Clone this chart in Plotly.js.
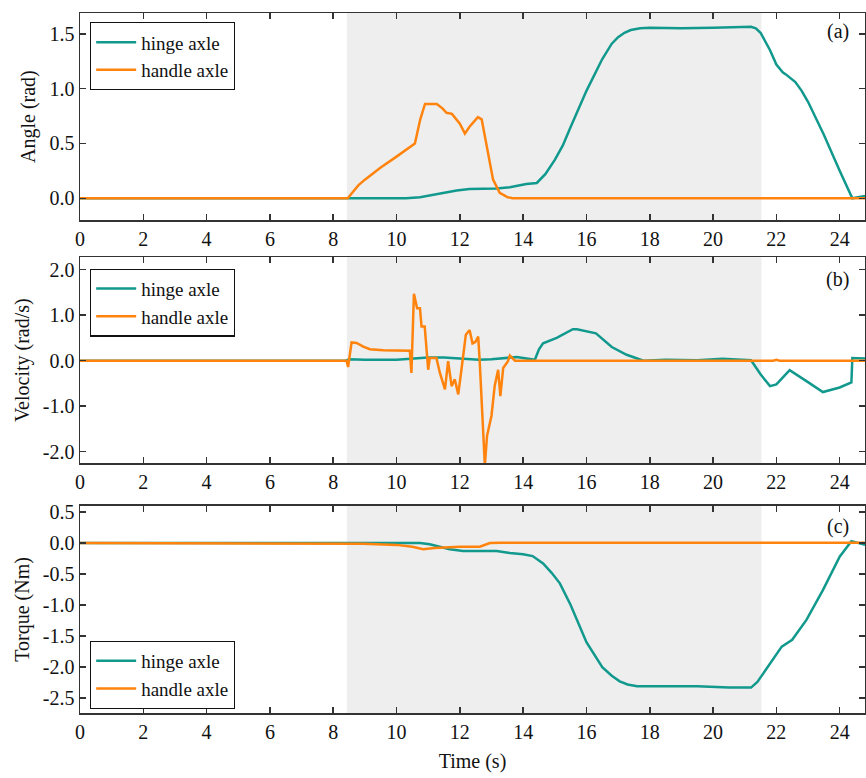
<!DOCTYPE html>
<html><head><meta charset="utf-8">
<script src="https://cdn.plot.ly/plotly-3.0.1.min.js"></script>
<style>body{margin:0;padding:0;background:#fff}#chart{width:866px;height:778px}</style>
</head><body><div id="chart"></div>
<script>
// ---- data ----
const seriesNames = ["hinge axle", "handle axle"];
const activeStart = 8.43, activeEnd = 21.53;

const angleHingeT = [0, 10.3, 10.74, 11.3, 11.9, 12.3, 13.16, 13.58, 14.1, 14.43, 14.7, 15.0, 15.25, 15.5, 15.8, 16.0, 16.5, 16.8, 17.0, 17.2, 17.4, 17.7, 18.0, 19.0, 20.0, 21.0, 21.2, 21.35, 21.5, 21.8, 22.0, 22.2, 22.3, 22.6, 22.8, 23.0, 23.5, 24.0, 24.4, 24.8];
const angleHingeV = [0, 0, 0.01, 0.04, 0.07, 0.085, 0.09, 0.10, 0.13, 0.14, 0.22, 0.35, 0.48, 0.65, 0.84, 0.98, 1.27, 1.41, 1.47, 1.51, 1.535, 1.55, 1.555, 1.55, 1.555, 1.565, 1.565, 1.55, 1.51, 1.35, 1.22, 1.15, 1.13, 1.06, 0.98, 0.88, 0.58, 0.25, 0.0, 0.02];
const angleHandleT = [0, 8.46, 8.6, 8.8, 9.0, 9.5, 10.0, 10.5, 10.58, 10.75, 10.9, 11.27, 11.45, 11.58, 11.75, 12.0, 12.16, 12.3, 12.57, 12.69, 12.85, 13.05, 13.26, 13.5, 13.67, 24.8];
const angleHandleV = [0, 0, 0.05, 0.12, 0.17, 0.28, 0.38, 0.48, 0.50, 0.72, 0.86, 0.86, 0.82, 0.78, 0.77, 0.68, 0.59, 0.65, 0.74, 0.72, 0.47, 0.17, 0.05, 0.01, 0, 0];

const velHingeT = [0, 8.4, 8.5, 9, 10, 10.5, 11, 11.5, 12, 12.3, 12.6, 13, 13.5, 13.8, 14.37, 14.5, 14.63, 15.06, 15.57, 15.7, 16.3, 16.8, 17.27, 17.8, 18.5, 19.5, 20.3, 21.0, 21.2, 21.5, 21.8, 22.0, 22.42, 22.95, 23.47, 24.0, 24.37, 24.4, 24.8];
const velHingeV = [0, 0, 0.03, 0.02, 0.02, 0.05, 0.07, 0.07, 0.05, 0.03, 0.02, 0.03, 0.07, 0.08, 0.02, 0.25, 0.38, 0.5, 0.69, 0.69, 0.6, 0.3, 0.13, 0, 0.02, 0.01, 0.04, 0.02, 0.01, -0.3, -0.56, -0.52, -0.21, -0.45, -0.69, -0.59, -0.48, 0.06, 0.05];
const velHandleT = [0, 8.42, 8.47, 8.58, 8.74, 8.95, 9.16, 9.58, 10.42, 10.47, 10.55, 10.65, 10.74, 10.79, 10.89, 11.0, 11.05, 11.26, 11.37, 11.53, 11.63, 11.74, 11.84, 11.95, 12.05, 12.19, 12.31, 12.4, 12.49, 12.58, 12.63, 12.79, 12.86, 13.0, 13.1, 13.21, 13.28, 13.37, 13.52, 13.58, 13.74, 21.9, 22.0, 22.1, 24.8];
const velHandleV = [0, 0, -0.14, 0.40, 0.39, 0.31, 0.25, 0.23, 0.22, -0.27, 1.47, 1.15, 1.15, 0.75, 0.75, -0.2, 0.06, 0.06, -0.27, -0.63, -0.01, -0.56, -0.41, -0.74, -0.2, 0.57, 0.67, 0.38, 0.41, 0.53, -0.05, -2.3, -1.65, -1.21, -0.56, -0.2, -0.78, -0.16, -0.01, 0.11, 0, 0, 0.02, 0, 0];

const torqueHingeT = [0, 10.5, 10.74, 11.05, 11.4, 11.68, 12.1, 12.5, 13.16, 13.58, 14.0, 14.3, 14.63, 14.9, 15.16, 15.5, 16.0, 16.5, 16.8, 17.05, 17.3, 17.6, 18.5, 19.0, 19.5, 20.5, 21.2, 21.4, 21.8, 22.17, 22.5, 22.95, 23.47, 24.0, 24.37, 24.8];
const torqueHingeV = [0, 0, 0, -0.02, -0.06, -0.1, -0.13, -0.13, -0.13, -0.16, -0.18, -0.21, -0.33, -0.48, -0.65, -1.0, -1.6, -2.0, -2.14, -2.23, -2.28, -2.31, -2.31, -2.30, -2.31, -2.33, -2.33, -2.24, -1.94, -1.67, -1.56, -1.24, -0.76, -0.22, 0.03, -0.03];
const torqueHandleT = [0, 8.43, 8.95, 10.0, 10.5, 10.84, 11.2, 11.68, 12.0, 12.63, 12.8, 12.95, 13.3, 24.8];
const torqueHandleV = [0, 0, -0.01, -0.03, -0.06, -0.1, -0.08, -0.07, -0.06, -0.06, -0.03, 0, 0.005, 0.005];

const xTicks = [0, 2, 4, 6, 8, 10, 12, 14, 16, 18, 20, 22, 24];
const angleTicks = [0, 0.5, 1.0, 1.5];
const angleTickText = ["0.0", "0.5", "1.0", "1.5"];
const velTicks = [-2, -1, 0, 1, 2];
const velTickText = ["-2.0", "-1.0", "0.0", "1.0", "2.0"];
const torqueTicks = [-2.5, -2, -1.5, -1, -0.5, 0, 0.5];
const torqueTickText = ["-2.5", "-2.0", "-1.5", "-1.0", "-0.5", "0.0", "0.5"];
const panelTitles = ["Angle (rad)", "Velocity (rad/s)", "Torque (Nm)"];
const panelLabels = ["(a)", "(b)", "(c)"];

// ---- styling ----
const TEAL = "#12998d", ORANGE = "#ff830c";
const FONT = "Liberation Serif";
const LW = 2.5;

function tr(x, y, name, color, xa, ya, leg) {
  return {x: x, y: y, name: name, type: "scatter", mode: "lines",
    line: {color: color, width: LW}, xaxis: xa, yaxis: ya, legend: leg, showlegend: true};
}
const data = [
  tr(angleHingeT, angleHingeV, seriesNames[0], TEAL, "x", "y", "legend"),
  tr(angleHandleT, angleHandleV, seriesNames[1], ORANGE, "x", "y", "legend"),
  tr(velHingeT, velHingeV, seriesNames[0], TEAL, "x2", "y2", "legend2"),
  tr(velHandleT, velHandleV, seriesNames[1], ORANGE, "x2", "y2", "legend2"),
  tr(torqueHingeT, torqueHingeV, seriesNames[0], TEAL, "x3", "y3", "legend3"),
  tr(torqueHandleT, torqueHandleV, seriesNames[1], ORANGE, "x3", "y3", "legend3")
];

const axBase = {showline: true, linecolor: "#333", linewidth: 1.5, mirror: "ticks",
  ticks: "inside", ticklen: 6, tickwidth: 1.5, tickcolor: "#333", showgrid: false, zeroline: false,
  tickfont: {family: FONT, size: 20, color: "#111"}};
function xAx(anchor, title) {
  const a = Object.assign({}, axBase, {range: [0, 24.8], tickvals: xTicks, anchor: anchor});
  if (title) a.title = {text: title, font: {family: FONT, size: 20, color: "#111"}, standoff: 12};
  return a;
}
function yAx(anchor, dom, range, tv, tt, title) {
  return Object.assign({}, axBase, {domain: dom, range: range, tickvals: tv, ticktext: tt, anchor: anchor,
    title: {text: title, font: {family: FONT, size: 20, color: "#111"}, standoff: 8}});
}
const legBase = {bgcolor: "rgba(255,255,255,1)", bordercolor: "#111", borderwidth: 1.2,
  font: {family: FONT, size: 19, color: "#111"}, xanchor: "left", x: 0.0127, tracegroupgap: 0,
  itemwidth: 40};

const shapes = [["x", "y"], ["x2", "y2"], ["x3", "y3"]].map(p => ({
  type: "rect", xref: p[0], yref: p[1] + " domain", x0: activeStart, x1: activeEnd, y0: 0, y1: 1,
  fillcolor: "#eeeeee", line: {width: 0}, layer: "below"}));

const labelY = [0.973, 0.619, 0.266];
const annotations = panelLabels.map((t, i) => ({text: t, xref: "paper", yref: "paper", x: 0.9656, y: labelY[i],
  xanchor: "center", yanchor: "middle", showarrow: false, font: {family: FONT, size: 20, color: "#111"}}));

const layout = {
  width: 866, height: 778, paper_bgcolor: "#fff", plot_bgcolor: "#fff",
  margin: {l: 80, r: 1, t: 13, b: 65},
  font: {family: FONT},
  xaxis: xAx("y"), xaxis2: xAx("y2"), xaxis3: xAx("y3", "Time (s)"),
  yaxis: yAx("x", [0.704, 1.0], [-0.2, 1.69], angleTicks, angleTickText, panelTitles[0]),
  yaxis2: yAx("x2", [0.357, 0.651], [-2.25, 2.27], velTicks, velTickText, panelTitles[1]),
  yaxis3: yAx("x3", [0, 0.296], [-2.74, 0.6], torqueTicks, torqueTickText, panelTitles[2]),
  legend: Object.assign({}, legBase, {y: 0.987, yanchor: "top"}),
  legend2: Object.assign({}, legBase, {y: 0.635, yanchor: "top"}),
  legend3: Object.assign({}, legBase, {y: 0.006, yanchor: "bottom"}),
  shapes: shapes, annotations: annotations
};
Plotly.newPlot("chart", data, layout, {displayModeBar: false, staticPlot: true});
</script></body></html>
